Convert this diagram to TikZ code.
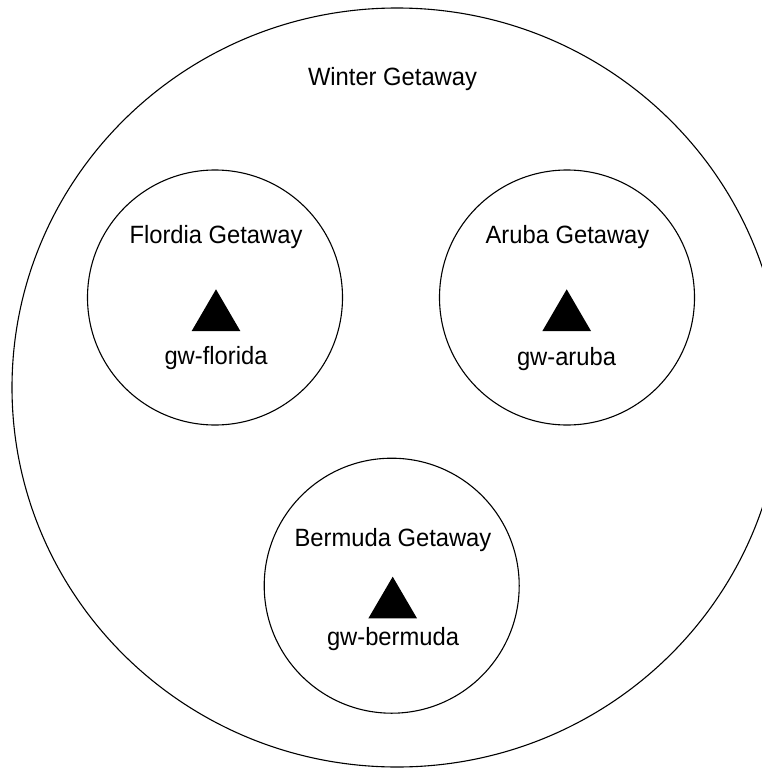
\documentclass[tikz,border=0pt]{standalone}
\usepackage{fontspec}
\setmainfont{Liberation Sans}[FakeStretch=0.95]
\usetikzlibrary{shapes.geometric}
\tikzset{
  region/.style={draw=black, line width=1.1pt, circle, inner sep=0pt, minimum size=255pt},
  outer/.style={draw=black, line width=1.1pt, ellipse, inner sep=0pt, minimum width=770pt, minimum height=759pt},
  lbl/.style={anchor=base, inner sep=0pt, font=\fontsize{25}{28}\selectfont},
  gw/.style={fill=black, draw=none}
}
\begin{document}
\begin{tikzpicture}[x=1pt,y=-1pt]
\useasboundingbox (0,0) rectangle (762,768);
\clip (0,0) rectangle (762,768);
\node[outer] (winter) at (397,387.5) {};
\node[lbl] (winterlbl) at (392.5,85) {Winter Getaway};
% Florida
\node[region] (florida) at (215,297.5) {};
\node[lbl] (floridalbl) at (216,243.3) {Flordia Getaway};
\draw[gw] (216,289.3) -- (240.3,331) -- (191.7,331) -- cycle;
\node[lbl] (floridagw) at (216,364.3) {gw-florida};
% Aruba
\node[region] (aruba) at (567,297.5) {};
\node[lbl] (arubalbl) at (567.5,243) {Aruba Getaway};
\draw[gw] (566.7,289.3) -- (591,331) -- (542.4,331) -- cycle;
\node[lbl] (arubagw) at (566.5,365) {gw-aruba};
% Bermuda
\node[region] (bermuda) at (391.7,585.7) {};
\node[lbl] (bermudalbl) at (393,546.7) {Bermuda Getaway};
\draw[gw] (392.7,576.7) -- (417,618.3) -- (368.4,618.3) -- cycle;
\node[lbl] (bermudagw) at (393,645) {gw-bermuda};
\end{tikzpicture}
\end{document}
